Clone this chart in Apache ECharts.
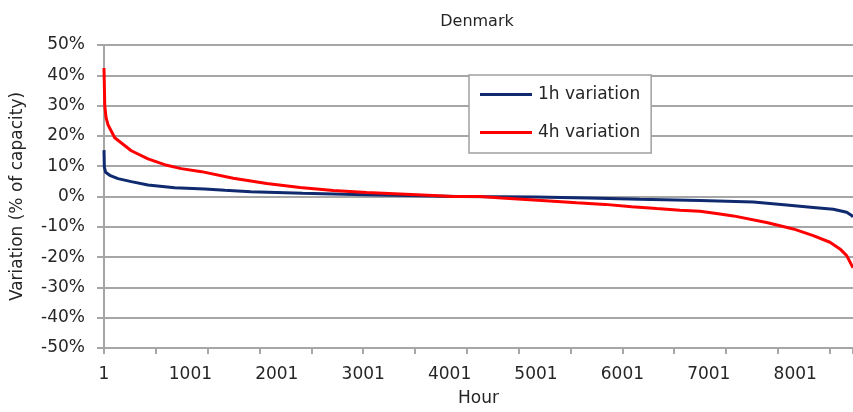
<!DOCTYPE html>
<html>
<head>
<meta charset="utf-8">
<script src="https://cdn.jsdelivr.net/npm/echarts@6/dist/echarts.min.js"></script>
<style>
html,body{margin:0;padding:0;background:#fff;}
#chart{width:853px;height:412px;}
</style>
</head>
<body>
<div id="chart"></div>
<script>
// ---- data (hour, % of capacity) ----
const titleText = "Denmark";
const seriesNames = ["1h variation", "4h variation"];
const xAxisName = "Hour";
const yAxisName = "Variation (% of capacity)";

const hours1h = [1, 5, 20, 67, 163, 317, 510, 818, 1166, 1400, 1700, 2300, 2900, 3500, 4100, 5000, 5600, 6200, 6900, 7516, 7902, 8210, 8442, 8597, 8655, 8670];
const values1h = [15.3, 9.7, 8.0, 7.0, 5.9, 4.9, 3.8, 2.9, 2.5, 2.1, 1.6, 1.1, 0.7, 0.3, 0.0, -0.2, -0.5, -0.9, -1.3, -1.8, -2.8, -3.6, -4.2, -5.2, -6.3, -6.7];

const hours4h = [1, 10, 25, 47, 125, 317, 510, 703, 895, 1130, 1497, 1884, 2270, 2655, 3041, 3427, 3810, 4040, 4352, 4604, 5067, 5472, 5800, 6108, 6398, 6667, 6899, 7130, 7285, 7670, 7979, 8210, 8403, 8519, 8597, 8655, 8670];
const values4h = [42.4, 29.8, 26.0, 23.7, 19.4, 15.1, 12.4, 10.5, 9.2, 8.2, 6.0, 4.3, 3.0, 2.0, 1.3, 0.8, 0.3, 0.0, 0.0, -0.5, -1.3, -2.1, -2.6, -3.4, -4.0, -4.5, -4.9, -5.8, -6.4, -8.6, -10.7, -12.9, -15.1, -17.3, -19.5, -22.7, -23.5];

const yTicks = { min: -50, max: 50, step: 10 };
const xLabelStep = 1000;   // labels 1, 1001, 2001 ...
const xTickStep = 600;     // tick marks every 600 hours
const xVisibleMax = 8669;  // hour-1 at the right edge of the picture

// ---- chart ----
const FONT = "DejaVu Sans";
const TXT = "#262626";
const GRIDC = "#a6a6a6";

function pairs(hs, vs) { return hs.map((h, i) => [h - 1, vs[i]]); }

const chart = echarts.init(document.getElementById('chart'), null, { renderer: 'canvas' });
chart.setOption({
  animation: false,
  backgroundColor: '#ffffff',
  textStyle: { fontFamily: FONT },
  title: {
    text: titleText, left: 472, top: 9, textAlign: 'center',
    textStyle: { fontFamily: FONT, fontSize: 16, fontWeight: 'normal', color: TXT }
  },
  legend: {
    orient: 'vertical', left: 469, top: 75,
    padding: [11, 11, 12, 11],
    itemGap: 21, itemWidth: 52, itemHeight: 3, icon: 'rect',
    backgroundColor: '#fff', borderColor: '#a0a0a0', borderWidth: 1.5, borderRadius: 0,
    textStyle: { fontFamily: FONT, fontSize: 17, color: TXT, padding: [0, 0, 0, 1] },
    data: seriesNames
  },
  grid: { left: 104, right: 0, top: 45, bottom: 58, containLabel: false },
  xAxis: [{
    type: 'value', min: 0, max: xVisibleMax, interval: xLabelStep,
    name: xAxisName, nameLocation: 'middle', nameGap: 42,
    nameTextStyle: { fontFamily: FONT, fontSize: 17, color: TXT },
    axisLine: { show: true, lineStyle: { color: GRIDC, width: 2 } },
    axisTick: { show: false },
    axisLabel: { show: true, margin: 18, fontFamily: FONT, fontSize: 17, color: TXT,
      showMaxLabel: false, formatter: v => String(v + 1) },
    splitLine: { show: false }
  }, {
    type: 'value', min: 0, max: xVisibleMax, interval: xTickStep, position: 'bottom',
    axisLine: { show: false },
    axisTick: { show: true, inside: false, length: 6, lineStyle: { color: GRIDC, width: 2 } },
    axisLabel: { show: false },
    splitLine: { show: false }
  }],
  yAxis: {
    type: 'value', min: yTicks.min, max: yTicks.max, interval: yTicks.step,
    name: yAxisName, nameLocation: 'middle', nameGap: 78,
    nameTextStyle: { fontFamily: FONT, fontSize: 17, color: TXT },
    axisLine: { show: true, lineStyle: { color: GRIDC, width: 2 } },
    axisTick: { show: true, inside: false, length: 7, lineStyle: { color: GRIDC, width: 2 } },
    axisLabel: { margin: 19, fontFamily: FONT, fontSize: 17, color: TXT, formatter: '{value}%' },
    splitLine: { show: true, lineStyle: { color: GRIDC, width: 2 } }
  },
  series: [{
    name: seriesNames[0], type: 'line', xAxisIndex: 0,
    data: pairs(hours1h, values1h), showSymbol: false, symbol: 'none',
    lineStyle: { color: '#0f2a6e', width: 3 }, itemStyle: { color: '#0f2a6e' }, z: 2
  }, {
    name: seriesNames[1], type: 'line', xAxisIndex: 0,
    data: pairs(hours4h, values4h), showSymbol: false, symbol: 'none',
    lineStyle: { color: '#ff0000', width: 3 }, itemStyle: { color: '#ff0000' }, z: 3
  }]
});
</script>
</body>
</html>
